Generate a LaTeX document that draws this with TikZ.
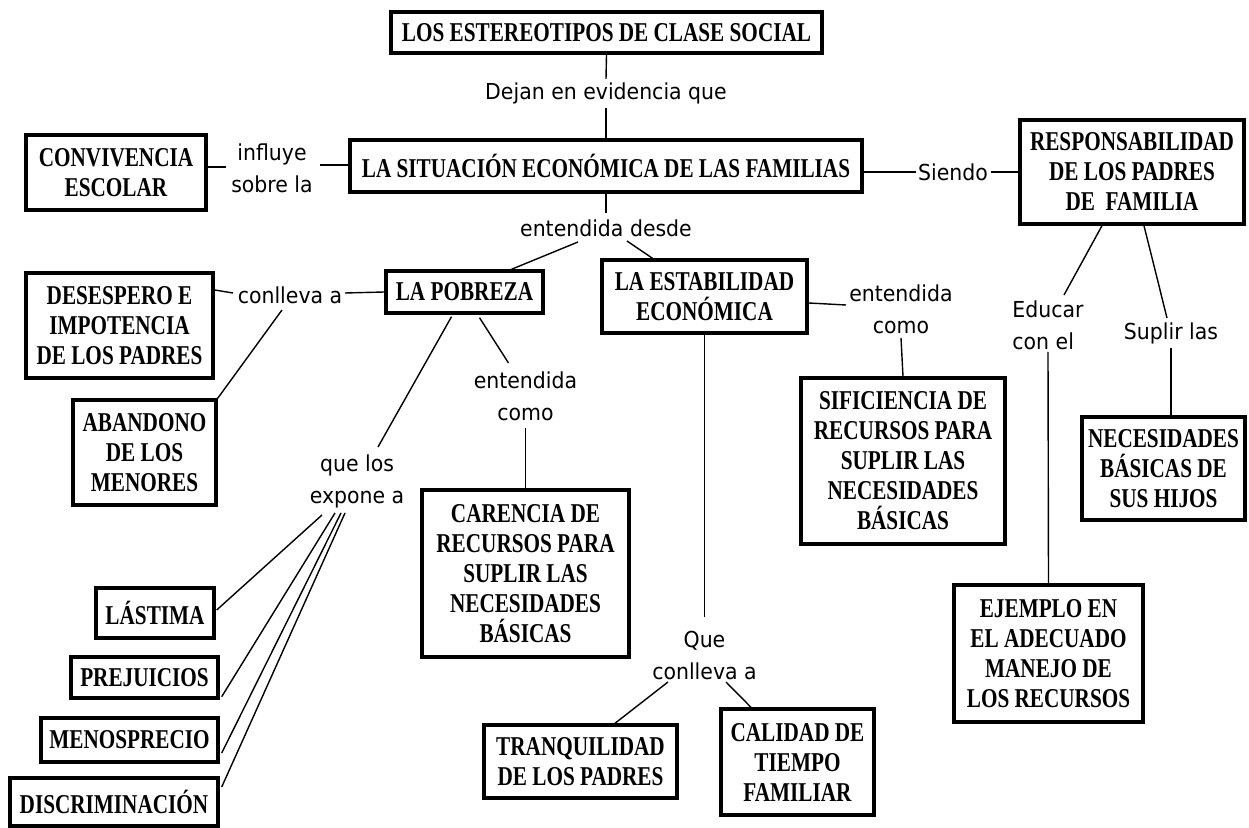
\documentclass[tikz,border=0pt]{standalone}
\usepackage{fontspec}
\usetikzlibrary{calc}
\newfontfamily\boxfont{Liberation Serif}[FakeStretch=0.78]
\newfontfamily\lblfont{DejaVu Sans}[FakeStretch=0.93]
\begin{document}
\begin{tikzpicture}[x=0.5pt,y=-0.5pt,
  box/.style={draw,line width=1.7pt,align=center,inner sep=0pt,
    font=\boxfont\bfseries\fontsize{13.6}{15}\selectfont},
  wh/.style 2 args={minimum width=#1*0.5pt,minimum height=#2*0.5pt},
  lbl/.style={align=center,inner sep=1pt,font=\lblfont\fontsize{11}{16}\selectfont},
  conn/.style={line width=0.7pt}]
\useasboundingbox (0,0) rectangle (1249,828);
% boxes
\node[box,wh={431}{41}] (title) at (606.5,32.5) {LOS ESTEREOTIPOS DE CLASE SOCIAL};
\node[box,wh={512}{52}] (sit) at (606,166) {LA SITUACIÓN ECONÓMICA DE LAS FAMILIAS};
\node[box,wh={180}{75}] (conv) at (116,172.5) {CONVIVENCIA\\ESCOLAR};
\node[box,wh={224}{104}] (resp) at (1132,172) {RESPONSABILIDAD\\DE LOS PADRES\\DE~ FAMILIA};
\node[box,wh={157}{42}] (pob) at (464.5,292) {LA POBREZA};
\node[box,wh={205}{73}] (estab) at (704.5,296.5) {LA ESTABILIDAD\\ECONÓMICA};
\node[box,wh={187}{105}] (desp) at (119.5,325.5) {DESESPERO E\\IMPOTENCIA\\DE LOS PADRES};
\node[box,wh={143}{105}] (aband) at (144.5,452.5) {ABANDONO\\DE LOS\\MENORES};
\node[box,wh={204}{166}] (sufic) at (903,461) {SIFICIENCIA DE\\RECURSOS PARA\\SUPLIR LAS\\NECESIDADES\\BÁSICAS};
\node[box,wh={163}{103}] (neces) at (1163.5,468.5) {NECESIDADES\\BÁSICAS DE\\SUS HIJOS};
\node[box,wh={207}{167}] (carencia) at (525.5,573.5) {CARENCIA DE\\RECURSOS PARA\\SUPLIR LAS\\NECESIDADES\\BÁSICAS};
\node[box,wh={189}{137}] (ejemplo) at (1048.5,653.5) {EJEMPLO EN\\EL ADECUADO\\MANEJO DE\\LOS RECURSOS};
\node[box,wh={118}{50}] (lastima) at (155,613) {LÁSTIMA};
\node[box,wh={147}{41}] (prej) at (144.5,677.5) {PREJUICIOS};
\node[box,wh={177}{44}] (menos) at (129.5,740) {MENOSPRECIO};
\node[box,wh={208}{48}] (discr) at (114,802) {DISCRIMINACIÓN};
\node[box,wh={193}{73}] (tranq) at (580.5,761.5) {TRANQUILIDAD\\DE LOS PADRES};
\node[box,wh={153}{106}] (calidad) at (797.5,762) {CALIDAD DE\\TIEMPO\\FAMILIAR};
% labels
\node[lbl] (dejan) at (606,93) {Dejan en evidencia que};
\node[lbl] (influye) at (272,168) {influye\\sobre la};
\node[lbl] (siendo) at (953,172) {Siendo};
\node[lbl] (entdesde) at (606,228) {entendida desde};
\node[lbl] (conlleva) at (290,295) {conlleva a};
\node[lbl] (entcomoa) at (525.5,396) {entendida\\como};
\node[lbl] (quelos) at (357,481) {que los\\expone a};
\node[lbl] (entcomob) at (901,309) {entendida\\como};
\node[lbl,align=left] (educar) at (1048,325) {Educar\\con el};
\node[lbl] (suplir) at (1171,333) {Suplir las};
\node[lbl] (quecon) at (704.5,655) {Que\\conlleva a};
% connectors
\draw[conn] (title.south) -- ($(dejan)+(0,-14)$);
\draw[conn] ($(dejan)+(0,15)$) -- (sit.north);
\draw[conn] ($(conv.east)+(0,-5.5)$) -- ($(influye)+(-46,-1)$);
\draw[conn] ($(influye)+(48,-3)$) -- ($(sit.west)+(0,-1)$);
\draw[conn] ($(sit.east)+(0,6)$) -- ($(siendo)+(-37,0)$);
\draw[conn] ($(siendo)+(38,0)$) -- (resp.west);
\draw[conn] (sit.south) -- ($(entdesde)+(0,-15)$);
\draw[conn] ($(entdesde)+(-28,14)$) -- ($(pob.north)+(47,0)$);
\draw[conn] ($(entdesde)+(21,13)$) -- ($(estab.north)+(-52,0)$);
\draw[conn] ($(desp.east)+(0,-35.5)$) -- ($(conlleva)+(-57,-2)$);
\draw[conn] ($(conlleva)+(55,-2)$) -- (pob.west);
\draw[conn] ($(conlleva)+(-8,15)$) -- (aband.north east);
\draw[conn] ($(pob.south)+(-13,2)$) -- ($(quelos)+(21,-34)$);
\draw[conn] ($(pob.south)+(15,3)$) -- ($(entcomoa)+(-17,-33)$);
\draw[conn] ($(entcomoa)+(0,32)$) -- (carencia.north);
\draw[conn] ($(quelos)+(-35,34)$) -- ($(lastima.east)+(1,-3)$);
\draw[conn] ($(quelos)+(-22,32)$) -- ($(prej.south east)+(2,-3)$);
\draw[conn] ($(quelos)+(-16,32)$) -- ($(menos.east)+(2,13)$);
\draw[conn] ($(quelos)+(-12,32)$) -- ($(discr.east)+(2,-15)$);
\draw[conn] ($(estab.east)+(0,6.5)$) -- ($(entcomob)+(-55,-4)$);
\draw[conn] ($(entcomob)+(0,29)$) -- (sufic.north);
\draw[conn] (estab.south) -- ($(quecon)+(0,-38)$);
\draw[conn] ($(quecon)+(-36.5,27)$) -- ($(tranq.north)+(34.5,0)$);
\draw[conn] ($(quecon)+(21.5,27)$) -- ($(calidad.north)+(-46.5,0)$);
\draw[conn] ($(resp.south)+(-30,0)$) -- ($(educar)+(16,-30)$);
\draw[conn] ($(resp.south)+(12,0)$) -- ($(suplir)+(-4,-15)$);
\draw[conn] ($(suplir)+(0,15)$) -- ($(neces.north)+(7.5,0)$);
\draw[conn] ($(educar)+(0,27)$) -- (ejemplo.north);
\end{tikzpicture}
\end{document}
